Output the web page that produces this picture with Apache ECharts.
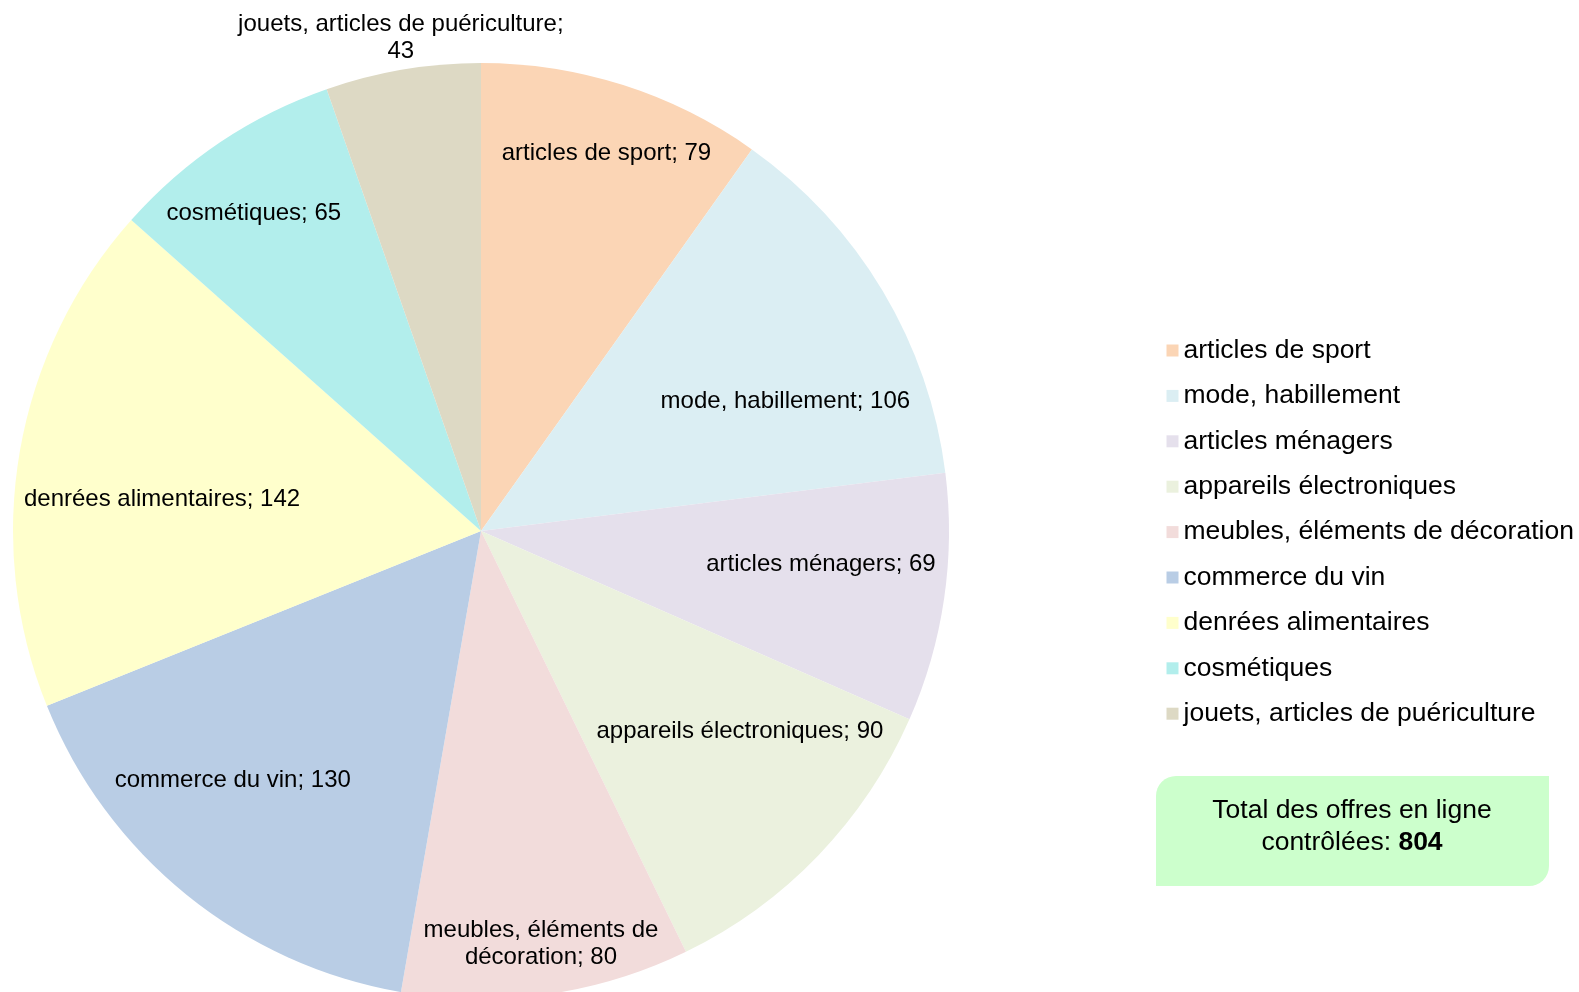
<!DOCTYPE html>
<html>
<head>
<meta charset="utf-8">
<script src="https://cdn.jsdelivr.net/npm/echarts@6/dist/echarts.min.js"></script>
<style>
html,body{margin:0;padding:0;background:#fff;}
#chart{width:1579px;height:992px;}
</style>
</head>
<body>
<div id="chart"></div>
<script>
// ---- data ----
const categories = [
  'articles de sport',
  'mode, habillement',
  'articles ménagers',
  'appareils électroniques',
  'meubles, éléments de décoration',
  'commerce du vin',
  'denrées alimentaires',
  'cosmétiques',
  'jouets, articles de puériculture'
];
const values = [79, 106, 69, 90, 80, 130, 142, 65, 43];
const totalLabel = 'Total des offres en ligne';
const totalLabel2 = 'contrôlées: ';

// ---- styles ----
const colors = ['#FBD5B5', '#DBEEF3', '#E5E0EC', '#EBF1DE', '#F2DCDB', '#B9CDE5', '#FFFFCC', '#B2EEEC', '#DDD9C4'];
// label placement (fraction of radius, angle shift from slice middle in degrees)
const labelRadius = [0.85, 0.707, 0.73, 0.70, 0.892, 0.752, 0.685, 0.834, 1.068];
const labelShift = [0.7, 7.8, -2.6, -6.1, -0.2, 5.9, -4.1, -1.8, 0.4];

const CX = 481, CY = 531, R = 468;
const FONT = '"Liberation Sans", Arial, sans-serif';

const total = values.reduce((a, b) => a + b, 0);
const cum = [];
values.reduce((acc, v, i) => { cum[i] = acc; return acc + v; }, 0);

const chart = echarts.init(document.getElementById('chart'));
chart.setOption({
  animation: false,
  color: colors,
  legend: {
    orient: 'vertical',
    left: 1161.5,
    top: 332,
    itemWidth: 12,
    itemHeight: 12,
    itemGap: 18.4,
    icon: 'rect',
    selectedMode: false,
    data: categories,
    textStyle: { fontFamily: FONT, fontSize: 26.5, color: '#000', lineHeight: 25.5 }
  },
  series: [{
    type: 'pie',
    center: [CX, CY],
    radius: [0, R],
    startAngle: 90,
    clockwise: true,
    avoidLabelOverlap: false,
    itemStyle: { borderWidth: 0 },
    emphasis: { disabled: true },
    label: {
      show: true,
      position: 'inside',
      fontFamily: FONT,
      fontSize: 24,
      lineHeight: 27,
      color: '#000',
      formatter: function (p) {
        let t = p.name + '; ' + p.value;
        if (p.dataIndex === 4) t = t.replace(' décoration', '\ndécoration');
        if (p.dataIndex === 8) t = t.replace('; ', ';\n');
        return t;
      }
    },
    labelLine: { show: false },
    labelLayout: function (p) {
      const i = p.dataIndex;
      const ang = (cum[i] + values[i] / 2) / total * 360 + labelShift[i];
      const rad = ang * Math.PI / 180;
      const r = labelRadius[i] * R;
      return {
        x: CX + r * Math.sin(rad),
        y: CY - r * Math.cos(rad),
        align: 'center',
        verticalAlign: 'middle'
      };
    },
    data: categories.map((c, i) => ({ name: c, value: values[i] }))
  }],
  graphic: [{
    type: 'rect',
    left: 1156,
    top: 776,
    shape: { width: 393, height: 110, r: [20, 0, 20, 0] },
    style: { fill: '#CCFFCC' },
    silent: true
  }, {
    type: 'text',
    x: 1352,
    y: 826.5,
    style: {
      text: '{a|' + totalLabel + '}\n{a|' + totalLabel2 + '}{b|' + total + '}',
      align: 'center',
      verticalAlign: 'middle',
      rich: {
        a: { fontFamily: FONT, fontSize: 26.5, lineHeight: 32, fill: '#000' },
        b: { fontFamily: FONT, fontSize: 26.5, lineHeight: 32, fontWeight: 'bold', fill: '#000' }
      }
    },
    silent: true
  }]
});
</script>
</body>
</html>
